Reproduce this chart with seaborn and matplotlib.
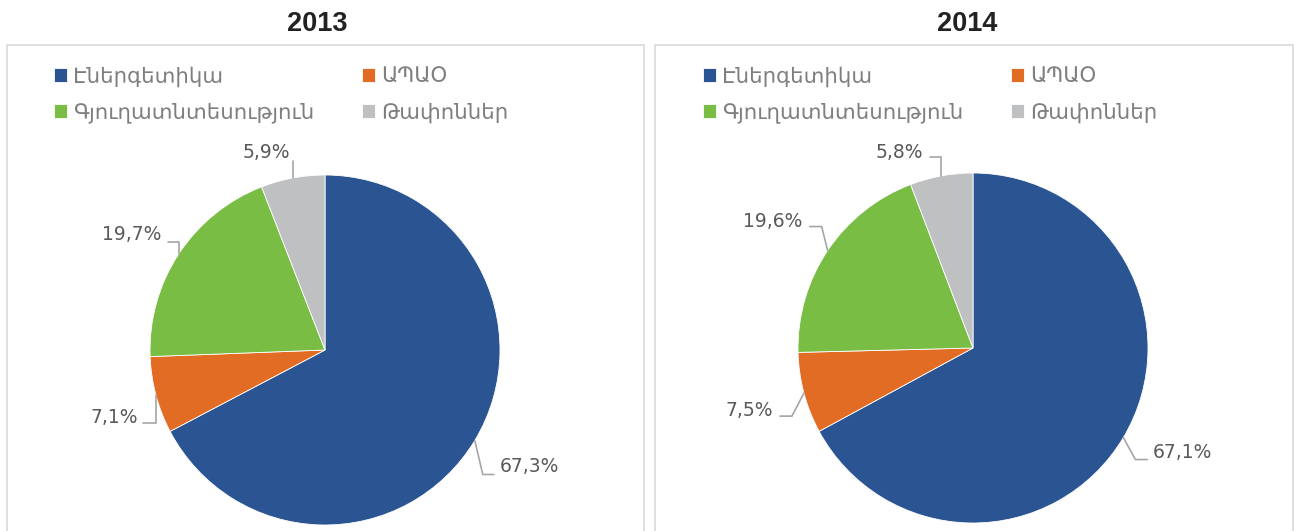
import numpy as np
import seaborn as sns
import matplotlib.pyplot as plt
from matplotlib.patches import Rectangle

# data
years = ["2013", "2014"]
sectors = ["Էներգետիկա", "ԱՊԱՕ", "Գյուղատնտեսություն", "Թափոններ"]
shares_2013 = [67.3, 7.1, 19.7, 5.9]
shares_2014 = [67.1, 7.5, 19.6, 5.8]
pct_2013 = ["67,3%", "7,1%", "19,7%", "5,9%"]
pct_2014 = ["67,1%", "7,5%", "19,6%", "5,8%"]
colors = ["#2A5592", "#E36C24", "#79BD45", "#BFC0C2"]

sns.set_theme(style="white")
plt.rcParams['font.family'] = ['DejaVu Sans']

W, H = 1296, 531
fig = plt.figure(figsize=(W / 100, H / 100), dpi=100)

def fx(px):
    return px / W

def fy(py):
    return 1 - py / H

R = 175  # pie radius in pixels

# leader lines: (elbow dx, elbow dy, tail, text dx, text dy) in pixels, screen y down
leaders_2013 = [(8, 34, 11, 6, -8), (0, 28, -13, -5, -6), (0, -12, -11, -6, -7), (0, -17, 0, -3, -8)]
leaders_2014 = [(12, 22, 12, 5, -7), (-12, 23, -12, -7, -6), (-6, -24, -12, -7, -5), (0, -19, -11, -7, -4)]

panels = [
    dict(year="2013", vals=shares_2013, pct=pct_2013, lead=leaders_2013,
         box=(7, 644), cx=325, cy=350, title_x=317, leg_x=54),
    dict(year="2014", vals=shares_2014, pct=pct_2014, lead=leaders_2014,
         box=(655, 1293), cx=973, cy=348, title_x=967, leg_x=703),
]

for p in panels:
    # panel frame
    x0, x1 = p["box"]
    fig.add_artist(Rectangle((fx(x0), -0.1), fx(x1 - x0), fy(45) + 0.1,
                             transform=fig.transFigure, fill=False,
                             edgecolor="#D9D9D9", linewidth=1.2))
    fig.text(fx(p["title_x"]), fy(24), p["year"], ha="center", va="center",
             fontsize=19.5, fontweight="bold", color="#222222",
             family=["Liberation Sans", "DejaVu Sans"])

    ax = fig.add_axes([fx(p["cx"] - R), fy(p["cy"] + R), fx(2 * R), (2 * R) / H])
    wedges, _ = ax.pie(p["vals"], colors=colors, startangle=90, counterclock=False,
                       radius=1, wedgeprops=dict(linewidth=0.6, edgecolor="white"))
    ax.set_xlim(-1, 1)
    ax.set_ylim(-1, 1)
    ax.set_aspect("equal")
    ax.axis("off")

    for w, txt, (edx, edy, tail, tdx, tdy) in zip(wedges, p["pct"], p["lead"]):
        th = np.deg2rad((w.theta1 + w.theta2) / 2)
        ax_, ay_ = np.cos(th), np.sin(th)
        ex, ey = ax_ + edx / R, ay_ - edy / R
        tx, ty = ex + tail / R, ey
        ax.plot([ax_, ex, tx], [ay_, ey, ty], color="#A6A6A6", lw=1.2,
                clip_on=False, solid_joinstyle="miter")
        side = "left" if tdx > 0 else "right"
        ax.text(tx + tdx / R, ty - tdy / R, txt, ha=side, va="center",
                fontsize=13.5, color="#595959", clip_on=False)

    # legend: 2 columns, filled column by column
    order = [0, 2, 1, 3]
    leg = fig.legend([wedges[i] for i in order], [sectors[i] for i in order],
                     ncol=2, loc="upper left", bbox_to_anchor=(fx(p["leg_x"]), fy(66)),
                     frameon=False, fontsize=15.3, handlelength=0.6,
                     handleheight=0.6, handletextpad=0.3, columnspacing=2.25,
                     labelspacing=0.75, borderpad=0, borderaxespad=0)
    for t in leg.get_texts():
        t.set_color("#7F7F7F")

fig.savefig("out.png", dpi=100, facecolor="white")
